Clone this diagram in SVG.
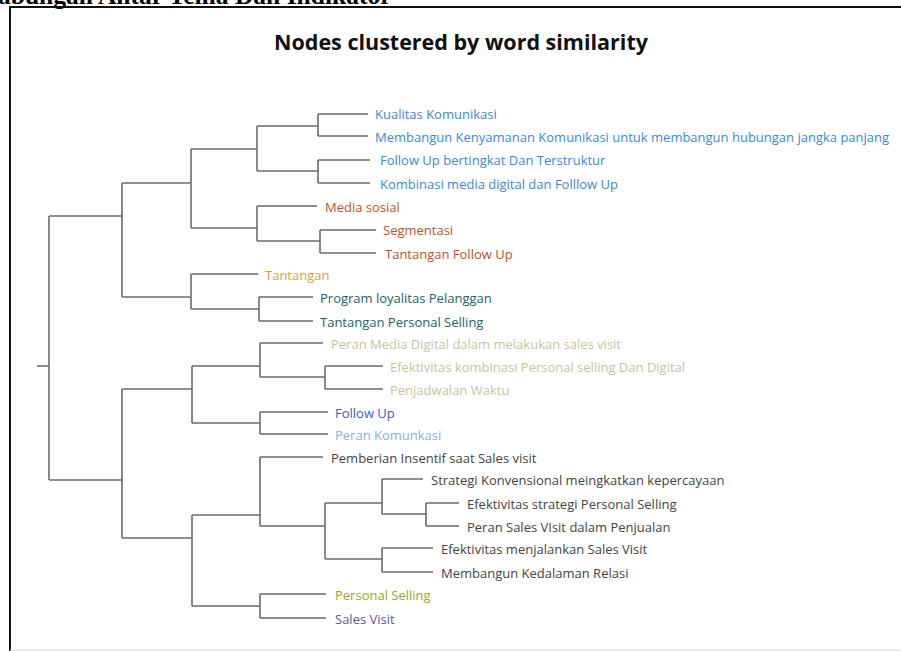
<svg xmlns="http://www.w3.org/2000/svg" width="901" height="651" viewBox="0 0 901 651">
<style>
.frame{stroke:#111;stroke-width:2;fill:none}
.c path{fill:none;stroke:#6b6b6b;stroke-width:1.6}
.lbl{font-family:"Open Sans","Noto Sans",sans-serif;font-size:13px}
.title{font-family:"Open Sans","Noto Sans",sans-serif;font-size:21.5px;font-weight:bold;fill:#111}
.head{font-family:"Liberation Serif",serif;font-size:25.5px;font-weight:bold;fill:#000}
.blue{fill:#3a8ad8}.brown{fill:#b8552e}.gold{fill:#d9a040}.teal{fill:#16666a}
.khaki{fill:#c9c39c}.fu{fill:#3b5cc4}.lblue{fill:#86b2ea}.gray{fill:#444}
.olive{fill:#9ea232}.slate{fill:#5a5a92}
</style>
<rect width="901" height="651" fill="#fff"/>
<text class="head" x="-2" y="4">abungan Antar Tema Dan Indikator</text>
<path class="frame" d="M10,651 V7 H901"/>
<path d="M10,650 H901" stroke="#ddd" stroke-width="1"/>
<text class="title" x="461" y="50" text-anchor="middle">Nodes clustered by word similarity</text>
<g class="c" id="connectors">
<path d="M37,366 H49 M49,216 V480"/>
<path d="M49,216 H122 M122,183 V297"/>
<path d="M122,183 H191 M191,149 V228"/>
<path d="M191,149 H257 M257,126 V171"/>
<path d="M257,126 H318 M318,114 V136 M318,114 H368 M318,136 H368"/>
<path d="M257,171 H318 M318,160 V183 M318,160 H370 M318,183 H370"/>
<path d="M191,228 H257 M257,206 V241 M257,206 H317"/>
<path d="M257,241 H320 M320,230 V253 M320,230 H376 M320,253 H376"/>
<path d="M122,297 H191 M191,274 V309 M191,274 H258"/>
<path d="M191,309 H259 M259,297 V321 M259,297 H313 M259,321 H313"/>
<path d="M49,480 H122 M122,389 V538"/>
<path d="M122,389 H192 M192,366 V423"/>
<path d="M192,366 H260 M260,343 V377 M260,343 H323"/>
<path d="M260,377 H325 M325,366 V389 M325,366 H383 M325,389 H383"/>
<path d="M192,423 H260 M260,412 V434 M260,412 H328 M260,434 H328"/>
<path d="M122,538 H192 M192,515 V606"/>
<path d="M192,515 H260 M260,457 V526 M260,457 H323"/>
<path d="M260,526 H325 M325,503 V559"/>
<path d="M325,503 H382 M382,479 V514 M382,479 H423"/>
<path d="M382,514 H426 M426,503 V526 M426,503 H459 M426,526 H459"/>
<path d="M325,559 H382 M382,548 V572 M382,548 H433 M382,572 H433"/>
<path d="M192,606 H260 M260,594 V618 M260,594 H326 M260,618 H326"/>
</g>
<g id="n1"><text class="lbl blue" x="375" y="119">Kualitas Komunikasi</text></g>
<g id="n2"><text class="lbl blue" x="375" y="142">Membangun Kenyamanan Komunikasi untuk membangun hubungan jangka panjang</text></g>
<g id="n3"><text class="lbl blue" x="380" y="165">Follow Up bertingkat Dan Terstruktur</text></g>
<g id="n4"><text class="lbl blue" x="380" y="189">Kombinasi media digital dan Folllow Up</text></g>
<g id="n5"><text class="lbl brown" x="325" y="212">Media sosial</text></g>
<g id="n6"><text class="lbl brown" x="383" y="235">Segmentasi</text></g>
<g id="n7"><text class="lbl brown" x="385" y="259">Tantangan Follow Up</text></g>
<g id="n8"><text class="lbl gold" x="265" y="280">Tantangan</text></g>
<g id="n9"><text class="lbl teal" x="320" y="303">Program loyalitas Pelanggan</text></g>
<g id="n10"><text class="lbl teal" x="320" y="327">Tantangan Personal Selling</text></g>
<g id="n11"><text class="lbl khaki" x="331" y="349">Peran Media Digital dalam melakukan sales visit</text></g>
<g id="n12"><text class="lbl khaki" x="390" y="372">Efektivitas kombinasi Personal selling Dan Digital</text></g>
<g id="n13"><text class="lbl khaki" x="390" y="395">Penjadwalan Waktu</text></g>
<g id="n14"><text class="lbl fu" x="335" y="418">Follow Up</text></g>
<g id="n15"><text class="lbl lblue" x="335" y="440">Peran Komunkasi</text></g>
<g id="n16"><text class="lbl gray" x="331" y="463">Pemberian Insentif saat Sales visit</text></g>
<g id="n17"><text class="lbl gray" x="431" y="485">Strategi Konvensional meingkatkan kepercayaan</text></g>
<g id="n18"><text class="lbl gray" x="467" y="509">Efektivitas  strategi Personal Selling</text></g>
<g id="n19"><text class="lbl gray" x="467" y="532">Peran Sales VIsit dalam Penjualan</text></g>
<g id="n20"><text class="lbl gray" x="441" y="554">Efektivitas menjalankan Sales Visit</text></g>
<g id="n21"><text class="lbl gray" x="441" y="578">Membangun Kedalaman Relasi</text></g>
<g id="n22"><text class="lbl olive" x="335" y="600">Personal Selling</text></g>
<g id="n23"><text class="lbl slate" x="335" y="624">Sales Visit</text></g>
</svg>
